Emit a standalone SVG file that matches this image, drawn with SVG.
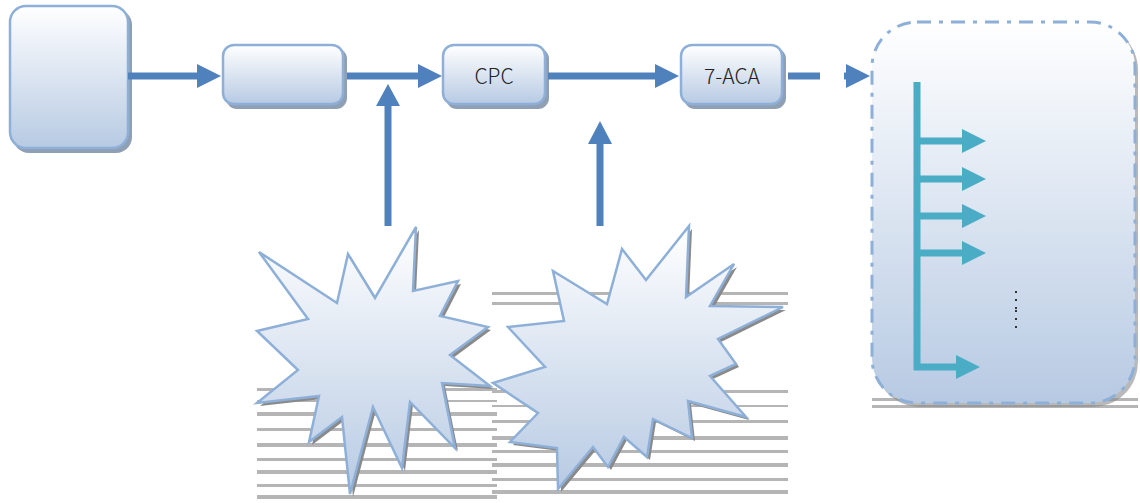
<svg xmlns="http://www.w3.org/2000/svg" width="1140" height="503" viewBox="0 0 1140 503">
<style>
.box{fill:url(#g);stroke:#8eb0d8;stroke-width:2.5}
.shadow{fill:#8fa0b5}
.conn{stroke:#4f81bd;stroke-width:7;fill:none}
.head{fill:#4f81bd}
.teal{stroke:#4bacc6;stroke-width:7;fill:none}
.thead{fill:#4bacc6}
.lbl{font-family:"Noto Sans CJK SC","Noto Sans",sans-serif;font-size:21px;font-weight:300;fill:#222;text-anchor:middle}
.noise{fill:#7a7a7a}
</style>
<defs>
<linearGradient id="g" x1="0" y1="0" x2="0" y2="1">
<stop offset="0" stop-color="#ffffff"/>
<stop offset="1" stop-color="#b7cae3"/>
</linearGradient>
</defs>
<rect width="1140" height="503" fill="#fff"/>

<g id="noise" opacity="0.55">
<rect class="noise" x="257" y="388" width="240" height="3"/>
<rect class="noise" x="257" y="400" width="240" height="2"/>
<rect class="noise" x="257" y="412" width="240" height="4"/>
<rect class="noise" x="257" y="428" width="240" height="3"/>
<rect class="noise" x="257" y="443" width="240" height="4"/>
<rect class="noise" x="257" y="458" width="240" height="3"/>
<rect class="noise" x="257" y="470" width="240" height="4"/>
<rect class="noise" x="257" y="484" width="240" height="3"/>
<rect class="noise" x="257" y="495" width="240" height="4"/>
<rect class="noise" x="492" y="292" width="296" height="3"/>
<rect class="noise" x="492" y="302" width="296" height="3"/>
<rect class="noise" x="492" y="390" width="296" height="3"/>
<rect class="noise" x="492" y="405" width="296" height="2"/>
<rect class="noise" x="492" y="420" width="296" height="3"/>
<rect class="noise" x="492" y="436" width="296" height="4"/>
<rect class="noise" x="492" y="450" width="296" height="3"/>
<rect class="noise" x="492" y="463" width="296" height="4"/>
<rect class="noise" x="492" y="478" width="296" height="3"/>
<rect class="noise" x="492" y="490" width="296" height="4"/>
<rect class="noise" x="872" y="398" width="266" height="3"/>
<rect class="noise" x="872" y="405" width="266" height="3"/>
</g>

<g id="node-source">
<rect class="shadow" x="13" y="9" width="119" height="144" rx="16"/>
<rect class="box" x="10" y="6" width="118" height="142" rx="16"/>
</g>
<g id="node-step2">
<rect class="shadow" x="226" y="48" width="121" height="61" rx="11"/>
<rect class="box" x="223" y="45" width="120" height="59" rx="11"/>
</g>
<g id="node-cpc">
<rect class="shadow" x="446" y="48" width="103" height="61" rx="11"/>
<rect class="box" x="443" y="45" width="102" height="59" rx="11"/>
<text class="lbl" x="494" y="84">CPC</text>
</g>
<g id="node-7aca">
<rect class="shadow" x="684" y="48" width="102" height="61" rx="11"/>
<rect class="box" x="681" y="45" width="101" height="59" rx="11"/>
<text class="lbl" x="732" y="84">7-ACA</text>
</g>

<g id="node-products">
<rect x="875" y="25" width="263" height="382" rx="45" fill="#8a8a8a" opacity="0.6"/>
<rect x="872" y="22" width="263" height="381" rx="45" fill="url(#g)" stroke="#8eb0d8" stroke-width="3" stroke-dasharray="14,8,4,8"/>
<line class="teal" x1="917" y1="82" x2="917" y2="370"/>
<line class="teal" x1="917" y1="141" x2="964" y2="141"/>
<polygon class="thead" points="962,129 986,141 962,153"/>
<line class="teal" x1="917" y1="179" x2="964" y2="179"/>
<polygon class="thead" points="962,167 986,179 962,191"/>
<line class="teal" x1="917" y1="216" x2="964" y2="216"/>
<polygon class="thead" points="962,204 986,216 962,228"/>
<line class="teal" x1="917" y1="253" x2="964" y2="253"/>
<polygon class="thead" points="962,241 986,253 962,265"/>
<line class="teal" x1="914" y1="367" x2="958" y2="367"/>
<polygon class="thead" points="956,355 980,367 956,379"/>
<g fill="#333">
<rect x="1015" y="291" width="2" height="2"/>
<rect x="1015" y="299" width="2" height="2"/>
<rect x="1015" y="307" width="2" height="2"/>
<rect x="1015" y="310" width="2" height="2"/>
<rect x="1015" y="318" width="2" height="2"/>
<rect x="1015" y="326" width="2" height="2"/>
</g>
</g>

<g id="node-star1">
<polygon transform="translate(3,3)" fill="#8a8a8a" points="259,252 337,303 348,254 375,298 416,227 413,291 458,281 440,316 488,327 450,355 490,386 442,383 455,448 410,402 402,468 373,407 350,494 342,417 309,442 319,396 257,403 298,370 257,331 308,319"/>
<polygon class="box" points="259,252 337,303 348,254 375,298 416,227 413,291 458,281 440,316 488,327 450,355 490,386 442,383 455,448 410,402 402,468 373,407 350,494 342,417 309,442 319,396 257,403 298,370 257,331 308,319"/>
</g>
<g id="node-star2">
<polygon transform="translate(3,3)" fill="#8a8a8a" points="553,271 607,304 622,249 646,280 689,226 686,297 734,264 710,306 783,307 718,339 736,364 710,376 746,417 688,401 692,438 653,419 647,457 624,437 608,467 593,447 558,489 557,448 510,442 538,413 493,383 545,367 508,327 564,321"/>
<polygon class="box" points="553,271 607,304 622,249 646,280 689,226 686,297 734,264 710,306 783,307 718,339 736,364 710,376 746,417 688,401 692,438 653,419 647,457 624,437 608,467 593,447 558,489 557,448 510,442 538,413 493,383 545,367 508,327 564,321"/>
</g>

<g id="connectors">
<line class="conn" x1="128" y1="76" x2="199" y2="76"/>
<polygon class="head" points="197,64 221,76 197,88"/>
<line class="conn" x1="347" y1="76" x2="420" y2="76"/>
<polygon class="head" points="418,64 442,76 418,88"/>
<line class="conn" x1="548" y1="76" x2="657" y2="76"/>
<polygon class="head" points="655,64 679,76 655,88"/>
<line class="conn" x1="788" y1="76" x2="820" y2="76"/>
<line class="conn" x1="844" y1="76" x2="848" y2="76"/>
<polygon class="head" points="846,64 870,76 846,88"/>
<line class="conn" x1="388" y1="226" x2="388" y2="104"/>
<polygon class="head" points="376,106 388,84 400,106"/>
<line class="conn" x1="600" y1="226" x2="600" y2="142"/>
<polygon class="head" points="588,144 600,121 612,144"/>
</g>
</svg>
